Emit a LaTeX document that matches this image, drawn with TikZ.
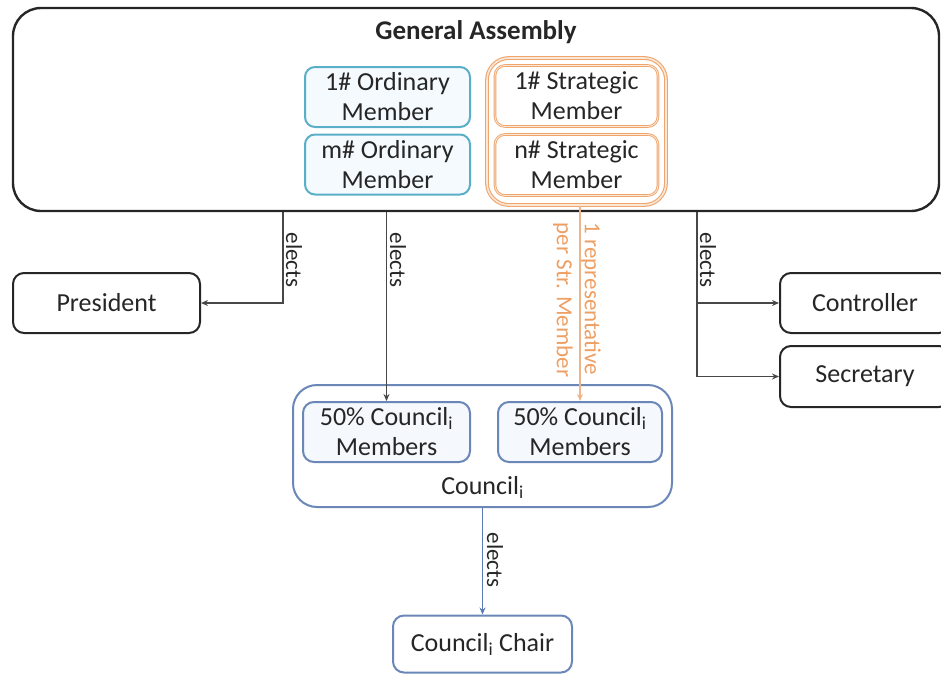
\documentclass[tikz,border=0pt]{standalone}
\usepackage{fontspec}
\setmainfont{Carlito}
\usetikzlibrary{arrows.meta}

\definecolor{inkdark}{HTML}{262626}
\definecolor{ordline}{HTML}{5AAFC8}
\definecolor{ordfill}{HTML}{F4FAFD}
\definecolor{strline}{HTML}{EFA66E}
\definecolor{strlight}{HTML}{FCE6D4}
\definecolor{strtext}{HTML}{EE9F63}
\definecolor{strarrow}{HTML}{F0B48A}
\definecolor{cnline}{HTML}{6A87B8}
\definecolor{cnfill}{HTML}{F5F8FC}
\definecolor{cnarrow}{HTML}{5B7BB5}

\begin{document}
\begin{tikzpicture}[x=1pt,y=-1pt,
  txt/.style={font=\fontsize{26}{30}\selectfont, text=inkdark},
  lbl/.style={font=\fontsize{23}{28}\selectfont, text=inkdark, rotate=-90, inner sep=0pt},
  officebox/.style={txt, draw=inkdark, line width=2pt, rounded corners=11pt, fill=white, align=center, inner sep=0pt},
  ordbox/.style={txt, draw=ordline, line width=2pt, rounded corners=10pt, fill=ordfill, align=center, inner sep=0pt, minimum width=165pt, minimum height=60pt},
  strbox/.style={txt, draw=strline, line width=0.9pt, double=strlight, double distance=0.8pt, rounded corners=10pt, fill=white, align=center, inner sep=0pt, minimum width=163pt, minimum height=61pt},
  cnbox/.style={txt, draw=cnline, line width=2pt, rounded corners=11pt, fill=cnfill, align=center, inner sep=0pt},
  elect/.style={-{Stealth[length=7pt,width=6pt]}, line width=1.3pt, draw=inkdark!85},
]
\useasboundingbox (0,0) rectangle (941,673);
\clip (0,0) rectangle (941,673);

% General Assembly frame with its members
\node[draw=inkdark, line width=2.4pt, rounded corners=28pt, minimum width=926pt, minimum height=203pt, inner sep=0pt] (ga) at (476,109.5) {};
\node[txt, font=\fontsize{27}{30}\selectfont\bfseries] (gatitle) at (476,32) {General Assembly};

\node[ordbox] (om1) at (387.5,97) {1\# Ordinary\\Member};
\node[ordbox] (om2) at (387.5,164.5) {m\# Ordinary\\Member};

\node[draw=strline, line width=1.1pt, double=strlight, double distance=1.6pt, rounded corners=22pt, minimum width=179pt, minimum height=147pt, inner sep=0pt] (strgroup) at (576.5,131.5) {};
\node[strbox] (sm1) at (576.5,96) {1\# Strategic\\Member};
\node[strbox] (sm2) at (576.5,165) {n\# Strategic\\Member};

% Elected offices (the right-hand ones run past the page edge)
\node[officebox, minimum width=187pt, minimum height=60pt] (pres) at (106.5,303) {President};
\node[officebox, minimum width=170pt, minimum height=60pt] (ctrl) at (865,303) {Controller};
\node[officebox, minimum width=170pt, minimum height=61pt] (secr) at (865,376.5) {Secretary};

% Council
\node[draw=cnline, line width=2pt, rounded corners=24pt, fill=white, minimum width=379pt, minimum height=122pt, inner sep=0pt] (council) at (482.5,446) {};
\node[cnbox, minimum width=167pt, minimum height=60pt] (cm1) at (386.5,432) {50\% Council\textsubscript{i}\\Members};
\node[cnbox, minimum width=164pt, minimum height=60pt] (cm2) at (580,432) {50\% Council\textsubscript{i}\\Members};
\node[txt] (cnlabel) at (482.5,487) {Council\textsubscript{i}};

\node[cnbox, fill=white, minimum width=179pt, minimum height=57pt] (chair) at (482.5,644) {Council\textsubscript{i} Chair};

% Connector junctions
\coordinate (presdrop) at (283,303);
\coordinate (offdrop) at (697,303);

% Connectors
\draw[elect] (ga.south -| presdrop) |- (pres.east);
\draw[elect] (ga.south -| cm1.north) -- (cm1.north);
\draw[elect] (ga.south -| offdrop) |- (ctrl.west);
\draw[elect] (offdrop) |- (secr.west);
\draw[-{Stealth[length=7pt,width=6pt]}, line width=1.3pt, draw=strarrow] (strgroup.south -| cm2.north) -- (cm2.north);
\draw[-{Stealth[length=7pt,width=6pt]}, line width=1.3pt, draw=cnarrow] (council.south -| chair.north) -- (chair.north);

% Connector labels
\node[lbl] (l1) at (294,260) {elects};
\node[lbl] (l2) at (398,260) {elects};
\node[lbl] (l3) at (708,260) {elects};
\node[lbl] (l4) at (495,560) {elects};
\node[lbl, text=strtext, align=left] (l5) at (577,300) {1 representative\\per Str. Member};
\end{tikzpicture}
\end{document}
